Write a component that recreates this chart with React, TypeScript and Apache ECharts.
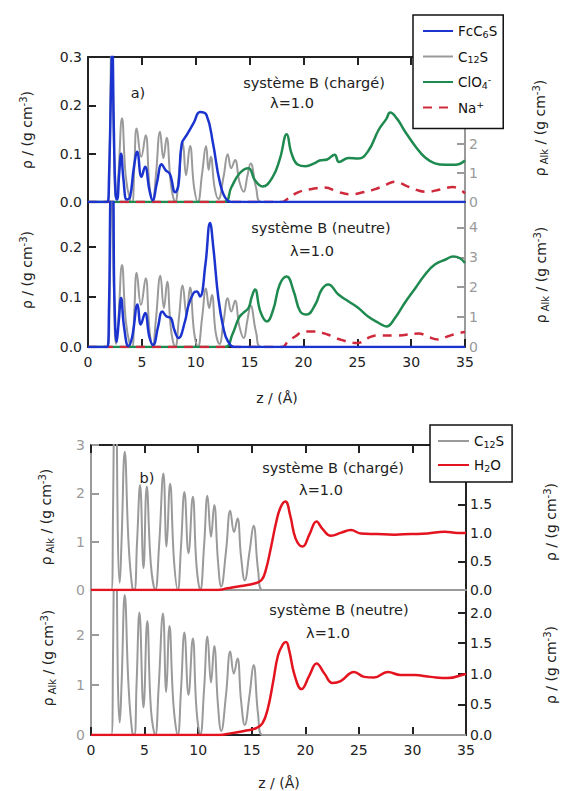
import React, { useEffect, useRef } from "react";
import * as echarts from "echarts";

// ---------- data (z in Å, density values) ----------
// Panel a) charged
const fcC6S_charged: number[][] = [[0,0],[1.8,0],[1.95,0.05],[2.15,0.25],[2.25,0.33],[2.4,0.15],[2.55,0.02],[2.7,0.005],[2.9,0.06],[3.07,0.1],[3.3,0.045],[3.6,0.005],[3.9,0.01],[4.25,0.07],[4.57,0.104],[4.96,0.052],[5.3,0.073],[5.7,0.025],[6.0,0.004],[6.4,0.04],[6.84,0.078],[7.2,0.066],[7.6,0.058],[8.1,0.02],[8.4,0.035],[8.7,0.12],[9.2,0.14],[9.8,0.163],[10.4,0.186],[11.0,0.18],[11.6,0.122],[12.25,0.04],[12.9,0.004],[13.5,0],[35,0]];
const c12S_a_charged: number[][] = [[0,0],[1.85,0],[2.0,1.5],[2.2,6],[2.4,2],[2.6,0.1],[2.8,0.8],[3.16,2.87],[3.5,0.9],[3.9,0.05],[4.1,0],[4.3,1.2],[4.52,2.52],[4.95,1.55],[5.35,2.29],[5.7,0.6],[6.0,0],[6.3,0.9],[6.69,2.41],[7.0,1.5],[7.3,2.2],[7.7,0.6],[8.1,0],[8.45,1.0],[8.8,2.03],[9.1,0.92],[9.47,1.92],[9.85,0.5],[10.2,0],[10.6,1.0],[10.96,1.92],[11.2,1.1],[11.4,1.55],[11.75,0.5],[12.1,0.1],[12.6,0.9],[12.97,1.64],[13.3,1.16],[13.65,1.44],[14.05,0.7],[14.45,0.35],[14.8,0.9],[15.1,1.32],[15.6,0.5],[16.1,0],[35,0]];
const clO4_charged: number[][] = [[0,0],[12.6,0],[13.3,0.03],[14.1,0.06],[14.9,0.07],[15.5,0.045],[16.2,0.032],[17.1,0.05],[17.8,0.088],[18.45,0.14],[18.9,0.1],[19.5,0.077],[20.2,0.074],[21.0,0.08],[21.5,0.086],[22.2,0.088],[22.9,0.098],[23.3,0.083],[24.2,0.091],[25.1,0.09],[26.0,0.105],[27.0,0.15],[27.7,0.172],[28.05,0.185],[28.7,0.172],[29.4,0.147],[30.4,0.115],[31.3,0.092],[32.2,0.08],[33.2,0.077],[34.1,0.077],[35,0.086]];
const na_charged: number[][] = [[0,0],[18.0,0],[18.5,0.006],[19.5,0.02],[20.8,0.027],[22.0,0.03],[23.2,0.021],[24.5,0.016],[25.5,0.02],[26.6,0.026],[27.6,0.035],[28.5,0.042],[29.6,0.033],[30.5,0.025],[31.5,0.021],[32.7,0.026],[33.9,0.031],[35,0.018]];

// Panel a) neutral
const fcC6S_neutral: number[][] = [[0,0],[1.8,0],[1.95,0.08],[2.15,0.31],[2.3,0.31],[2.45,0.1],[2.66,0.01],[2.85,0.05],[3.07,0.098],[3.35,0.04],[3.75,0.002],[4.1,0.02],[4.6,0.085],[4.9,0.045],[5.3,0.068],[5.7,0.02],[6.05,0.004],[6.5,0.04],[6.9,0.071],[7.3,0.061],[7.7,0.058],[8.0,0.035],[8.4,0.018],[9.0,0.051],[9.3,0.081],[9.8,0.108],[10.1,0.111],[10.4,0.101],[10.9,0.165],[11.33,0.248],[11.64,0.198],[12.1,0.098],[12.57,0.038],[13.0,0.011],[13.65,0],[35,0]];
const c12S_a_neutral: number[][] = [[0,0],[1.85,0],[2.0,1.5],[2.2,6],[2.4,2],[2.6,0.1],[2.8,0.8],[3.16,2.74],[3.5,0.9],[3.9,0.05],[4.1,0],[4.3,1.2],[4.52,2.48],[4.92,1.41],[5.35,2.3],[5.7,0.6],[6.0,0],[6.3,0.9],[6.72,2.38],[7.05,1.3],[7.35,2.18],[7.7,0.6],[8.1,0],[8.45,1.0],[8.79,2.06],[9.15,1.08],[9.47,1.99],[9.85,0.5],[10.2,0],[10.6,1.0],[10.95,1.96],[11.25,1.3],[11.5,1.74],[11.85,0.5],[12.2,0.1],[12.6,0.9],[12.97,1.63],[13.3,1.19],[13.65,1.55],[14.05,0.7],[14.45,0.3],[14.8,0.9],[15.1,1.38],[15.6,0.5],[16.1,0],[35,0]];
const clO4_neutral: number[][] = [[0,0],[12.7,0],[13.4,0.025],[14.0,0.058],[14.4,0.068],[14.9,0.078],[15.2,0.1],[15.5,0.115],[16.0,0.071],[16.6,0.051],[17.2,0.075],[17.8,0.125],[18.45,0.141],[19.1,0.111],[19.7,0.071],[20.3,0.065],[21.1,0.085],[21.7,0.115],[22.3,0.125],[23.25,0.105],[24.2,0.091],[25.1,0.078],[26.0,0.061],[27.0,0.048],[27.7,0.041],[28.5,0.058],[29.4,0.088],[30.4,0.118],[31.3,0.145],[32.2,0.165],[33.2,0.175],[33.9,0.181],[34.5,0.178],[35,0.168]];
const na_neutral: number[][] = [[0,0],[18.0,0],[18.6,0.012],[19.3,0.022],[20.0,0.031],[21.0,0.031],[21.8,0.028],[22.6,0.022],[23.4,0.015],[25.0,0.008],[26.0,0.018],[26.8,0.023],[28.6,0.023],[30.7,0.027],[31.6,0.02],[32.5,0.015],[33.5,0.022],[34.3,0.027],[35,0.03]];

// Panel b) charged
const c12S_b_charged: number[][] = [[0,0],[1.9,0],[2.05,1.5],[2.28,6.5],[2.5,1.2],[2.68,0.15],[2.85,1.0],[3.15,2.86],[3.5,1.0],[3.85,0.05],[4.05,0],[4.3,1.0],[4.58,2.17],[4.9,0.45],[5.2,2.14],[5.6,0.5],[6.0,0],[6.35,0.9],[6.76,2.41],[7.05,0.9],[7.38,2.2],[7.75,0.6],[8.1,0],[8.4,0.9],[8.72,2.03],[9.1,0.76],[9.5,1.93],[9.85,0.5],[10.2,0],[10.55,0.9],[10.87,1.95],[11.2,1.1],[11.5,1.76],[11.85,0.6],[12.15,0.07],[12.6,0.8],[13.0,1.64],[13.35,1.2],[13.67,1.48],[14.0,0.7],[14.35,0.2],[14.8,0.8],[15.17,1.33],[15.6,0.4],[16.0,0],[35,0]];
const h2o_charged: number[][] = [[0,0],[11.8,0],[12.76,0.03],[14.0,0.07],[15.25,0.115],[15.9,0.17],[16.3,0.34],[16.8,0.75],[17.3,1.2],[17.7,1.45],[18.14,1.55],[18.6,1.3],[19.1,0.9],[19.75,0.76],[20.4,0.98],[21.05,1.2],[21.6,1.07],[22.4,0.95],[23.3,1.0],[24.25,1.05],[25.2,0.99],[26.7,0.98],[28.3,0.97],[29.8,0.98],[31.4,0.99],[33.0,1.02],[34.2,1.0],[35,1.0]];

// Panel b) neutral
const c12S_b_neutral: number[][] = [[0,0],[1.9,0],[2.05,1.5],[2.28,6.5],[2.5,1.2],[2.68,0.25],[2.85,1.0],[3.15,2.8],[3.5,1.0],[3.85,0.05],[4.05,0],[4.25,1.0],[4.52,2.45],[4.9,0.55],[5.25,2.28],[5.6,0.5],[6.0,0],[6.3,0.9],[6.72,2.43],[7.02,0.86],[7.32,2.18],[7.7,0.6],[8.1,0],[8.4,0.9],[8.72,2.05],[9.1,0.8],[9.5,1.93],[9.85,0.5],[10.2,0],[10.55,0.9],[10.87,1.97],[11.2,1.05],[11.5,1.78],[11.85,0.6],[12.15,0.08],[12.6,0.8],[13.0,1.67],[13.33,1.23],[13.67,1.53],[14.0,0.7],[14.35,0.2],[14.8,0.8],[15.17,1.4],[15.6,0.4],[16.0,0],[35,0]];
const h2o_neutral: number[][] = [[0,0],[12.0,0],[13.1,0.03],[14.3,0.065],[15.4,0.11],[16.0,0.19],[16.5,0.43],[17.0,0.87],[17.45,1.3],[17.9,1.48],[18.2,1.52],[18.5,1.38],[19.0,0.98],[19.65,0.75],[20.4,0.98],[21.05,1.17],[21.8,1.0],[22.55,0.85],[23.3,0.88],[24.55,1.03],[25.5,0.95],[26.4,0.94],[27.7,1.03],[28.9,0.98],[30.2,0.98],[31.7,0.95],[33.3,0.93],[34.8,0.99],[35,1.0]];

// axis ranges
const zRange = [0, 35];
const zStep = 5;
const legendA = ["FcC6S", "C12S", "ClO4-", "Na+"];
const legendB = ["C12S", "H2O"];
const legendRich: Record<string, string> = {
  "FcC6S": "FcC{sub|6}S",
  "C12S": "C{sub|12}S",
  "ClO4-": "ClO{sub|4}{sup|-}",
  "Na+": "Na{sup|+}",
  "H2O": "H{sub|2}O",
};

const FONT = "'DejaVu Sans', sans-serif";
const BLUE = "#1b34cf";
const GRAY = "#9a9a9a";
const GREEN = "#1f8a4f";
const REDD = "#cf2a3c";
const RED = "#e3141f";
const DARK = "#222";
const AXGRAY = "#9a9a9a";

const tickIn = (color: string) => ({ show: true, inside: true, length: 8, lineStyle: { color, width: 2 } });
const xb = (gridIndex: number, position: string, extra: any) => ({
  type: "value", gridIndex, position, min: zRange[0], max: zRange[1], interval: zStep,
  splitLine: { show: false },
  axisTick: extra.axisTick,
  axisLabel: extra.axisLabel,
  axisLine: { show: true, onZero: false, lineStyle: { color: extra.lineColor || DARK, width: 2 } },
});
const xLabel = { show: true, fontSize: 14, color: DARK, fontFamily: FONT, margin: 8 };
const yb = (gridIndex: number, position: string, max: number, interval: number, color: string, labelColor: string, digits: number, showMax: boolean, hideFrom = Infinity) => ({
  type: "value", gridIndex, position, min: 0, max, interval,
  splitLine: { show: false },
  axisLine: { show: true, onZero: false, lineStyle: { color, width: 2 } },
  axisTick: tickIn(color),
  axisLabel: {
    show: true, fontSize: 14, color: labelColor, fontFamily: FONT,
    margin: position === "left" ? 6 : 4,
    formatter: (v: number) => (v >= hideFrom - 1e-9 ? "" : v.toFixed(digits)),
    showMaxLabel: showMax, showMinLabel: true,
  },
});

const S = (name: string, data: number[][], xi: number, yi: number, color: string, width: number, dashed = false, z = 2) => ({
  type: "line", name, data, xAxisIndex: xi, yAxisIndex: yi,
  showSymbol: false, symbol: "none", smooth: 0.45, clip: true, silent: true, z,
  lineStyle: { color, width, type: dashed ? [9, 7] : "solid" },
  itemStyle: { color },
});

const RICH = {
  sup: { fontSize: 10, lineHeight: 10, verticalAlign: "top", fontFamily: FONT, fill: DARK },
  sub: { fontSize: 10, lineHeight: 10, verticalAlign: "bottom", fontFamily: FONT, fill: DARK },
};
const T = (text: string, x: number, y: number, rot = 0, size = 14) => ({
  type: "text", x, y, rotation: rot, silent: true, z: 10,
  style: { text, fontSize: size, fontFamily: FONT, fill: DARK, align: "center", verticalAlign: "middle", lineHeight: 18, rich: RICH },
});
const R = Math.PI / 2;
const RHO = "ρ / (g cm{sup|-3})";
const RHOALK = "ρ{sub| Alk} / (g cm{sup|-3})";

const legendCommon = {
  orient: "vertical", selectedMode: false, itemWidth: 30, itemHeight: 14,
  borderColor: "#111", borderWidth: 1.5, backgroundColor: "#fff", borderRadius: 0,
  itemStyle: { opacity: 0, borderWidth: 0 },
  formatter: (n: string) => legendRich[n] || n,
  textStyle: {
    fontSize: 13.5, fontFamily: FONT, color: "#111", lineHeight: 16,
    rich: {
      sub: { fontSize: 9.5, lineHeight: 9, verticalAlign: "bottom", fontFamily: FONT, color: "#111" },
      sup: { fontSize: 9.5, lineHeight: 9, verticalAlign: "top", fontFamily: FONT, color: "#111" },
    },
  },
  z: 8,
};

const option: any = {
  animation: false,
  backgroundColor: "#fff",
  grid: [
    { left: 88, top: 57, width: 377, height: 145 },
    { left: 88, top: 202, width: 377, height: 145 },
    { left: 91, top: 445, width: 375, height: 145 },
    { left: 91, top: 590, width: 375, height: 145 },
  ],
  xAxis: [
    xb(0, "bottom", { lineColor: "#1b2a8a", axisTick: { show: false }, axisLabel: { show: false } }),
    xb(0, "top", { axisTick: tickIn(DARK), axisLabel: { show: false } }),
    xb(1, "bottom", { axisTick: tickIn(DARK), axisLabel: xLabel }),
    xb(2, "top", { axisTick: tickIn(DARK), axisLabel: { show: false } }),
    xb(2, "bottom", { lineColor: AXGRAY, axisTick: { show: false }, axisLabel: { show: false } }),
    xb(3, "bottom", { axisTick: tickIn(DARK), axisLabel: xLabel }),
  ],
  yAxis: [
    yb(0, "left", 0.3, 0.1, DARK, DARK, 1, true),
    yb(0, "right", 4.97, 1, AXGRAY, AXGRAY, 0, false, 3),
    yb(1, "left", 0.29, 0.1, DARK, DARK, 1, false),
    yb(1, "right", 4.85, 1, AXGRAY, AXGRAY, 0, false),
    yb(2, "left", 3, 1, AXGRAY, AXGRAY, 0, true),
    yb(2, "right", 2.54, 0.5, DARK, DARK, 1, false, 2),
    yb(3, "left", 2.9, 1, AXGRAY, AXGRAY, 0, false),
    yb(3, "right", 2.37, 0.5, DARK, DARK, 1, false),
  ],
  legend: [
    { ...legendCommon, data: legendA, left: 413, top: 15, itemGap: 9.5, padding: [8, 6, 13, 9] },
    { ...legendCommon, data: legendB, left: 430, top: 425, itemGap: 8, padding: [8, 8, 9, 7], itemWidth: 31 },
  ],
  series: [
    S("C12S", c12S_a_charged, 0, 1, GRAY, 2),
    S("ClO4-", clO4_charged, 0, 0, GREEN, 2.5),
    S("Na+", na_charged, 0, 0, REDD, 2.5, true),
    S("FcC6S", fcC6S_charged, 0, 0, BLUE, 2.5, false, 3),
    S("C12S", c12S_a_neutral, 2, 3, GRAY, 2),
    S("ClO4-", clO4_neutral, 2, 2, GREEN, 2.5),
    S("Na+", na_neutral, 2, 2, REDD, 2.5, true),
    S("FcC6S", fcC6S_neutral, 2, 2, BLUE, 2.5, false, 3),
    S("C12S", c12S_b_charged, 3, 4, GRAY, 2),
    S("H2O", h2o_charged, 3, 5, RED, 2.5, false, 3),
    S("C12S", c12S_b_neutral, 5, 6, GRAY, 2),
    S("H2O", h2o_neutral, 5, 7, RED, 2.5, false, 3),
  ],
  graphic: [
    T("système B (chargé)", 314, 83, 0, 14.5),
    T("λ=1.0", 292, 103, 0, 14.5),
    T("a)", 138, 93, 0, 14.5),
    T("système B (neutre)", 321, 228, 0, 14.5),
    T("λ=1.0", 312, 251, 0, 14.5),
    T("système B (chargé)", 333, 468, 0, 14.5),
    T("λ=1.0", 321, 490, 0, 14.5),
    T("b)", 147, 478, 0, 14.5),
    T("système B (neutre)", 339, 610, 0, 14.5),
    T("λ=1.0", 328, 633, 0, 14.5),
    T("z / (Å)", 277, 398),
    T("z / (Å)", 279, 783),
    T(RHO, 27, 130, R),
    T(RHO, 27, 270, R),
    T(RHOALK, 540, 128, R),
    T(RHOALK, 541, 275, R),
    T(RHOALK, 46, 517, R),
    T(RHOALK, 48, 658, R),
    T(RHO, 551, 522, R),
    T(RHO, 551, 665, R),
  ],
};

export default function App() {
  const ref = useRef<HTMLDivElement>(null);
  useEffect(() => {
    if (!ref.current) return;
    const chart = echarts.init(ref.current, null, { renderer: "svg" });
    chart.setOption(option);
    return () => chart.dispose();
  }, []);
  return (
    <div
      ref={ref}
      style={{ position: "absolute", left: 0, top: 0, width: 561, height: 791, background: "#fff" }}
    />
  );
}
